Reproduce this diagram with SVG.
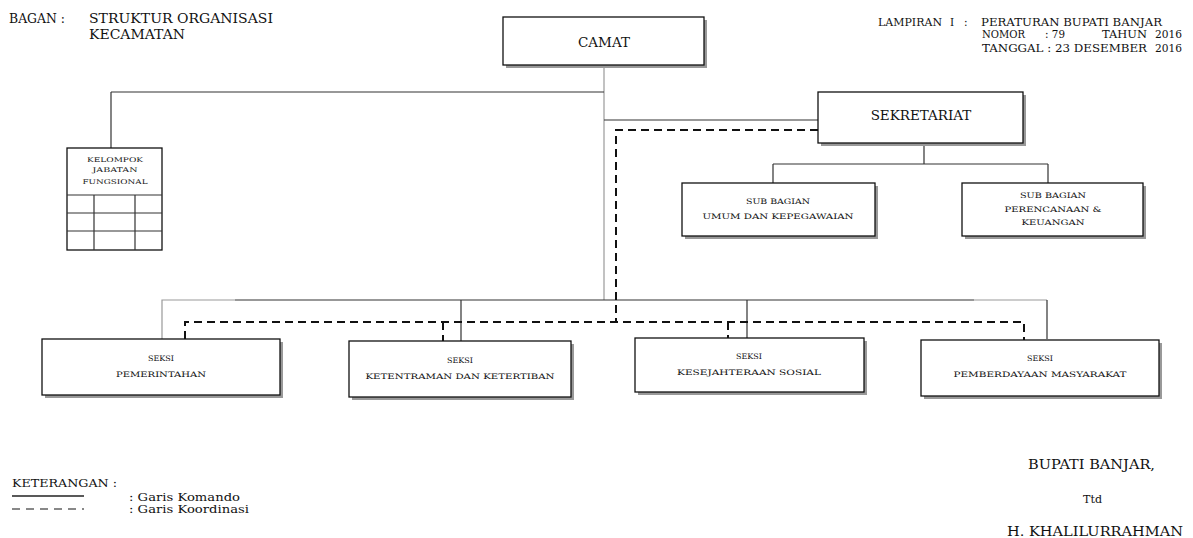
<svg xmlns="http://www.w3.org/2000/svg" width="1193" height="538" viewBox="0 0 1193 538">
<style>
text{font-family:"DejaVu Serif","Liberation Serif",serif;fill:#111}
.h{font-size:12.5px}
.m{font-size:10.5px}
.t{font-size:13.5px}
.s{font-size:7.5px}
.k{font-size:6.5px}
.box{fill:#fff;stroke:#111;stroke-width:1.3}
.sh{fill:#999}
.ln{stroke:#333;stroke-width:1.2;fill:none}
.lg{stroke:#999;stroke-width:1.2;fill:none}
.ds{stroke:#111;stroke-width:2;stroke-dasharray:8 5;fill:none}
</style>

<!-- header texts -->
<g id="header">
<text class="h" x="9" y="23" textLength="56" lengthAdjust="spacingAndGlyphs">BAGAN :</text>
<text class="h" x="89" y="23" textLength="184" lengthAdjust="spacingAndGlyphs">STRUKTUR ORGANISASI</text>
<text class="h" x="89" y="39" textLength="96" lengthAdjust="spacingAndGlyphs">KECAMATAN</text>
<text class="m" x="878" y="26" textLength="64" lengthAdjust="spacingAndGlyphs">LAMPIRAN</text>
<text class="m" x="950" y="26">I</text>
<text class="m" x="964" y="26">:</text>
<text class="m" x="981" y="26" textLength="181" lengthAdjust="spacingAndGlyphs">PERATURAN BUPATI BANJAR</text>
<text class="m" x="982" y="38" textLength="43" lengthAdjust="spacingAndGlyphs">NOMOR</text>
<text class="m" x="1045" y="38" textLength="20" lengthAdjust="spacingAndGlyphs">: 79</text>
<text class="m" x="1102" y="38" textLength="45" lengthAdjust="spacingAndGlyphs">TAHUN</text>
<text class="m" x="1155" y="38" textLength="27" lengthAdjust="spacingAndGlyphs">2016</text>
<text class="m" x="982" y="52" textLength="165" lengthAdjust="spacingAndGlyphs">TANGGAL : 23 DESEMBER</text>
<text class="m" x="1155" y="52" textLength="27" lengthAdjust="spacingAndGlyphs">2016</text>
</g>

<!-- connectors -->
<g id="connectors">
<path class="lg" d="M604 65V300"/>
<path class="ln" d="M111 92H604"/>
<path class="ln" d="M111 92V148"/>
<path class="ln" d="M604 120H818"/>
<path class="ln" d="M924 143V164M773 164H1048M773 164V183M1048 164V183"/>
<path class="ln" d="M235 300H974"/>
<path class="lg" d="M162 339V300H235M974 300H1047"/>
<path class="ln" d="M1047 300V339M461 300V341M747 300V339"/>
<path class="ds" d="M818 130H616V322"/>
<path class="ds" d="M185 339V322H1024V340"/>
<path class="ds" d="M443 322V341M728 322V339"/>
</g>

<!-- CAMAT -->
<g id="camat">
<rect class="sh" x="506" y="20" width="201" height="48"/>
<rect class="box" x="503" y="17" width="201" height="48"/>
<text class="t" x="604" y="47" text-anchor="middle">CAMAT</text>
</g>

<!-- SEKRETARIAT -->
<g id="sekretariat">
<rect class="sh" x="821" y="95" width="205" height="51"/>
<rect class="box" x="818" y="92" width="205" height="51"/>
<text class="t" x="921" y="120" text-anchor="middle">SEKRETARIAT</text>
</g>

<!-- KELOMPOK JABATAN FUNGSIONAL -->
<g id="kelompok">
<rect class="box" x="67" y="148" width="95" height="102" stroke-width="1.6"/>
<path class="ln" stroke="#111" stroke-width="1.5" d="M67 195H162M67 213H162M67 231H162M94 195V250M135 195V250"/>
<text class="k" x="115" y="162" text-anchor="middle" textLength="56" lengthAdjust="spacingAndGlyphs">KELOMPOK</text>
<text class="k" x="115" y="172" text-anchor="middle" textLength="45" lengthAdjust="spacingAndGlyphs">JABATAN</text>
<text class="k" x="115" y="184" text-anchor="middle" textLength="65" lengthAdjust="spacingAndGlyphs">FUNGSIONAL</text>
</g>

<!-- SUB BAGIAN UMUM -->
<g id="subbag-umum">
<rect class="sh" x="685" y="186" width="193" height="53"/>
<rect class="box" x="682" y="183" width="193" height="53"/>
<text class="s" x="778" y="204" text-anchor="middle" textLength="64" lengthAdjust="spacingAndGlyphs">SUB BAGIAN</text>
<text class="s" x="778" y="219" text-anchor="middle" textLength="151" lengthAdjust="spacingAndGlyphs">UMUM DAN KEPEGAWAIAN</text>
</g>

<!-- SUB BAGIAN PERENCANAAN -->
<g id="subbag-perencanaan">
<rect class="sh" x="965" y="186" width="181" height="53"/>
<rect class="box" x="962" y="183" width="181" height="53"/>
<text class="s" x="1053" y="198" text-anchor="middle" textLength="66" lengthAdjust="spacingAndGlyphs">SUB BAGIAN</text>
<text class="s" x="1053" y="212" text-anchor="middle" textLength="97" lengthAdjust="spacingAndGlyphs">PERENCANAAN &amp;</text>
<text class="s" x="1053" y="225" text-anchor="middle" textLength="63" lengthAdjust="spacingAndGlyphs">KEUANGAN</text>
</g>

<!-- SEKSI boxes -->
<g id="seksi-pemerintahan">
<rect class="sh" x="45" y="342" width="238" height="56"/>
<rect class="box" x="42" y="339" width="238" height="56"/>
<text class="s" x="161" y="361" text-anchor="middle" textLength="26" lengthAdjust="spacingAndGlyphs">SEKSI</text>
<text class="s" x="161" y="377" text-anchor="middle" textLength="90" lengthAdjust="spacingAndGlyphs">PEMERINTAHAN</text>
</g>
<g id="seksi-ketentraman">
<rect class="sh" x="352" y="344" width="222" height="56"/>
<rect class="box" x="349" y="341" width="222" height="56"/>
<text class="s" x="460" y="363" text-anchor="middle" textLength="26" lengthAdjust="spacingAndGlyphs">SEKSI</text>
<text class="s" x="460" y="379" text-anchor="middle" textLength="189" lengthAdjust="spacingAndGlyphs">KETENTRAMAN DAN KETERTIBAN</text>
</g>
<g id="seksi-kesejahteraan">
<rect class="sh" x="638" y="341" width="229" height="54"/>
<rect class="box" x="635" y="338" width="229" height="54"/>
<text class="s" x="749" y="359" text-anchor="middle" textLength="26" lengthAdjust="spacingAndGlyphs">SEKSI</text>
<text class="s" x="749" y="375" text-anchor="middle" textLength="144" lengthAdjust="spacingAndGlyphs">KESEJAHTERAAN SOSIAL</text>
</g>
<g id="seksi-pemberdayaan">
<rect class="sh" x="924" y="343" width="238" height="56"/>
<rect class="box" x="921" y="340" width="238" height="56"/>
<text class="s" x="1040" y="361" text-anchor="middle" textLength="26" lengthAdjust="spacingAndGlyphs">SEKSI</text>
<text class="s" x="1040" y="377" text-anchor="middle" textLength="173" lengthAdjust="spacingAndGlyphs">PEMBERDAYAAN MASYARAKAT</text>
</g>

<!-- legend -->
<g id="legend">
<text class="m" x="12" y="487" textLength="105" lengthAdjust="spacingAndGlyphs">KETERANGAN :</text>
<path stroke="#222" stroke-width="1.3" d="M12 496H84"/>
<path stroke="#888" stroke-width="2" stroke-dasharray="8 6" d="M12 509H84"/>
<text class="m" x="129" y="501" textLength="111" lengthAdjust="spacingAndGlyphs">: Garis Komando</text>
<text class="m" x="129" y="513" textLength="120" lengthAdjust="spacingAndGlyphs">: Garis Koordinasi</text>
</g>

<!-- signature -->
<g id="signature">
<text class="h" x="1028" y="469" textLength="127" lengthAdjust="spacingAndGlyphs">BUPATI BANJAR,</text>
<text class="m" x="1083" y="503" textLength="19" lengthAdjust="spacingAndGlyphs">Ttd</text>
<text class="h" x="1007" y="536" textLength="176" lengthAdjust="spacingAndGlyphs">H. KHALILURRAHMAN</text>
</g>
</svg>
